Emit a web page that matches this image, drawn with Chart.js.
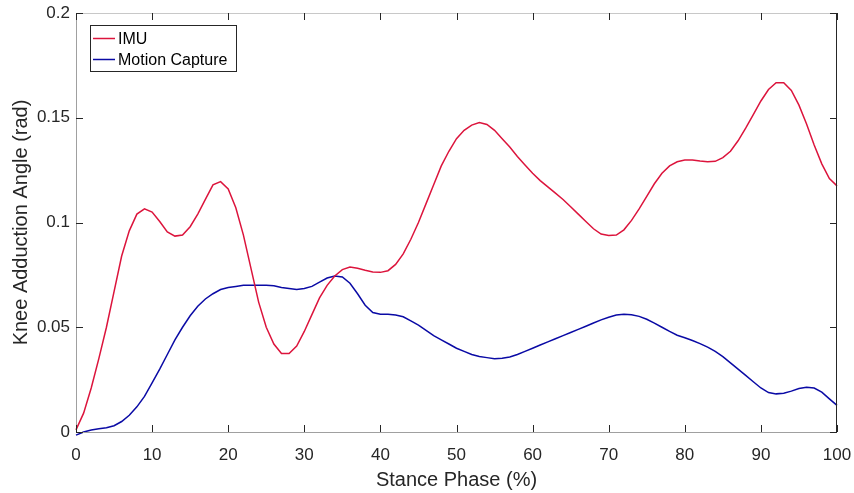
<!DOCTYPE html>
<html lang="en">

<head>
  <meta charset="UTF-8">
  <script src="https://cdn.jsdelivr.net/npm/chart.js"></script>
  <title>Knee Adduction Angle</title>
  <style>
    body { margin: 0; background: #fff; }
  </style>
</head>

<body>
  <canvas id="grafico" width="854" height="493"></canvas>
  <script>
    // stance phase (%)
    const fase = [0, 1, 2, 3, 4, 5, 6, 7, 8, 9, 10, 11, 12, 13, 14, 15, 16, 17, 18, 19, 20,
      21, 22, 23, 24, 25, 26, 27, 28, 29, 30, 31, 32, 33, 34, 35, 36, 37, 38, 39, 40,
      41, 42, 43, 44, 45, 46, 47, 48, 49, 50, 51, 52, 53, 54, 55, 56, 57, 58, 59, 60,
      61, 62, 63, 64, 65, 66, 67, 68, 69, 70, 71, 72, 73, 74, 75, 76, 77, 78, 79, 80,
      81, 82, 83, 84, 85, 86, 87, 88, 89, 90, 91, 92, 93, 94, 95, 96, 97, 98, 99, 100];

    const imu = [0.001, 0.009, 0.021, 0.035, 0.050, 0.067, 0.084, 0.096, 0.104, 0.1065, 0.105,
      0.1005, 0.0955, 0.0935, 0.094, 0.098, 0.104, 0.111, 0.118, 0.1195, 0.116,
      0.107, 0.094, 0.078, 0.062, 0.050, 0.042, 0.0375, 0.0375, 0.041, 0.048,
      0.056, 0.064, 0.070, 0.0745, 0.0775, 0.0787, 0.0782, 0.0772, 0.0764, 0.0762,
      0.077, 0.080, 0.085, 0.092, 0.100, 0.109, 0.118, 0.127, 0.134, 0.140,
      0.144, 0.1465, 0.1477, 0.1468, 0.144, 0.140, 0.136, 0.1315, 0.1275, 0.1235,
      0.120, 0.117, 0.114, 0.111, 0.1075, 0.104, 0.1005, 0.097, 0.0945, 0.0938,
      0.094, 0.0965, 0.101, 0.1065, 0.1125, 0.1185, 0.1235, 0.127, 0.129, 0.1298,
      0.1298, 0.1293, 0.129, 0.1292, 0.131, 0.134, 0.139, 0.145, 0.1515, 0.158,
      0.1635, 0.1667, 0.1667, 0.163, 0.156, 0.147, 0.137, 0.128, 0.121, 0.1175];

    const mocap = [-0.0015, 0.0, 0.001, 0.0015, 0.002, 0.003, 0.005, 0.008, 0.012, 0.017, 0.0235,
      0.030, 0.037, 0.044, 0.050, 0.0555, 0.060, 0.0635, 0.066, 0.068, 0.069,
      0.0695, 0.070, 0.070, 0.070, 0.070, 0.0698, 0.069, 0.0685, 0.068, 0.0685,
      0.0695, 0.0715, 0.0735, 0.0745, 0.074, 0.071, 0.066, 0.0605, 0.057, 0.0562,
      0.0562, 0.0558, 0.055, 0.053, 0.051, 0.0485, 0.046, 0.044, 0.042, 0.040,
      0.0385, 0.037, 0.036, 0.0355, 0.035, 0.0352, 0.0358, 0.037, 0.0385, 0.040,
      0.0415, 0.043, 0.0445, 0.046, 0.0475, 0.049, 0.0505, 0.052, 0.0535, 0.0548,
      0.0558, 0.0562, 0.056, 0.0552, 0.0538, 0.052, 0.050, 0.048, 0.0462, 0.045,
      0.0437, 0.0422, 0.0405, 0.0385, 0.036, 0.033, 0.030, 0.027, 0.024, 0.021,
      0.0188, 0.0182, 0.0185, 0.0195, 0.0208, 0.0213, 0.021, 0.019, 0.0158, 0.0127, 0.0097];

    const ticksX = [0, 10, 20, 30, 40, 50, 60, 70, 80, 90, 100];
    const ticksY = [0, 0.05, 0.1, 0.15, 0.2];
    const nomes = ["IMU", "Motion Capture"];
    const cores = ["#dc143c", "#0a0aa5"];

    const fonte = "Arial, 'Liberation Sans', sans-serif";
    const corTexto = "#262626";

    // axes box + inward ticks, like matlab
    const caixa = {
      id: 'caixa',
      afterDatasetsDraw(chart) {
        const c = chart.ctx;
        const a = chart.chartArea;
        const sx = chart.scales.x, sy = chart.scales.y;
        c.save();
        c.lineWidth = 1;
        c.strokeStyle = "#c8c8c8";
        c.beginPath(); c.moveTo(a.left, a.top + 0.5); c.lineTo(a.right, a.top + 0.5); c.stroke();
        c.strokeStyle = "#a0a0a0";
        c.beginPath();
        c.moveTo(a.left + 0.5, a.top); c.lineTo(a.left + 0.5, a.bottom + 0.5);
        c.lineTo(a.right, a.bottom + 0.5);
        c.stroke();
        c.strokeStyle = corTexto;
        c.beginPath(); c.moveTo(a.right - 0.5, a.top); c.lineTo(a.right - 0.5, a.bottom + 1); c.stroke();
        c.beginPath();
        ticksX.forEach(v => {
          const px = Math.round(sx.getPixelForValue(v)) + 0.5;
          c.moveTo(px, a.bottom); c.lineTo(px, a.bottom - 7);
          c.moveTo(px, a.top); c.lineTo(px, a.top + 7);
        });
        ticksY.forEach(v => {
          const py = Math.round(sy.getPixelForValue(v)) + 0.5;
          c.moveTo(a.left, py); c.lineTo(a.left + 7, py);
          c.moveTo(a.right, py); c.lineTo(a.right - 7, py);
        });
        c.stroke();
        c.restore();
      },
      afterDraw(chart) {
        // legend box inside the axes
        const c = chart.ctx;
        const x0 = 90, y0 = 25, w = 146, h = 46;
        c.save();
        c.fillStyle = "#fff";
        c.fillRect(x0, y0, w, h);
        c.strokeStyle = corTexto;
        c.lineWidth = 1;
        c.strokeRect(x0 + 0.5, y0 + 0.5, w, h);
        c.font = "16px " + fonte;
        c.textBaseline = "middle";
        nomes.forEach((n, i) => {
          const y = y0 + 13.5 + i * 21;
          c.strokeStyle = cores[i];
          c.lineWidth = 1.5;
          c.beginPath(); c.moveTo(x0 + 3, y); c.lineTo(x0 + 25, y); c.stroke();
          c.fillStyle = "#000";
          c.fillText(n, x0 + 28, y + 1);
        });
        c.restore();
      }
    };

    const ctx = document.getElementById('grafico');
    const grafico = new Chart(ctx, {
      type: 'line',
      data: {
        labels: fase,
        datasets: [{
          label: nomes[0],
          data: imu,
          borderColor: cores[0],
          borderWidth: 1.5,
          pointRadius: 0,
          tension: 0,
          clip: 4
        }, {
          label: nomes[1],
          data: mocap,
          borderColor: cores[1],
          borderWidth: 1.5,
          pointRadius: 0,
          tension: 0,
          clip: 4
        }]
      },
      options: {
        responsive: false,
        animation: false,
        layout: { padding: { left: 0, right: 17, top: 13, bottom: 0 } },
        plugins: {
          legend: { display: false },
          tooltip: { enabled: false }
        },
        scales: {
          x: {
            type: 'linear',
            min: 0,
            max: 100,
            afterFit: s => { s.height = 61; s.paddingLeft = 0; s.paddingRight = 0; },
            afterBuildTicks: s => { s.ticks = ticksX.map(v => ({ value: v })); },
            grid: { display: false, drawTicks: false },
            border: { display: false },
            ticks: {
              padding: 13,
              maxRotation: 0,
              color: corTexto,
              font: { family: fonte, size: 17 }
            },
            title: {
              display: true,
              text: 'Stance Phase (%)',
              color: corTexto,
              padding: { top: 0, bottom: 1 },
              font: { family: fonte, size: 20 }
            }
          },
          y: {
            min: 0,
            max: 0.2,
            afterFit: s => { s.width = 76; s.paddingTop = 0; s.paddingBottom = 0; },
            afterBuildTicks: s => { s.ticks = ticksY.map(v => ({ value: v })); },
            grid: { display: false, drawTicks: false },
            border: { display: false },
            ticks: {
              padding: 6,
              color: corTexto,
              font: { family: fonte, size: 17 },
              callback: v => String(v)
            },
            title: {
              display: true,
              text: 'Knee Adduction Angle (rad)',
              color: corTexto,
              padding: { top: 9, bottom: 0 },
              font: { family: fonte, size: 20 }
            }
          }
        }
      },
      plugins: [caixa]
    });
  </script>

</body>

</html>
